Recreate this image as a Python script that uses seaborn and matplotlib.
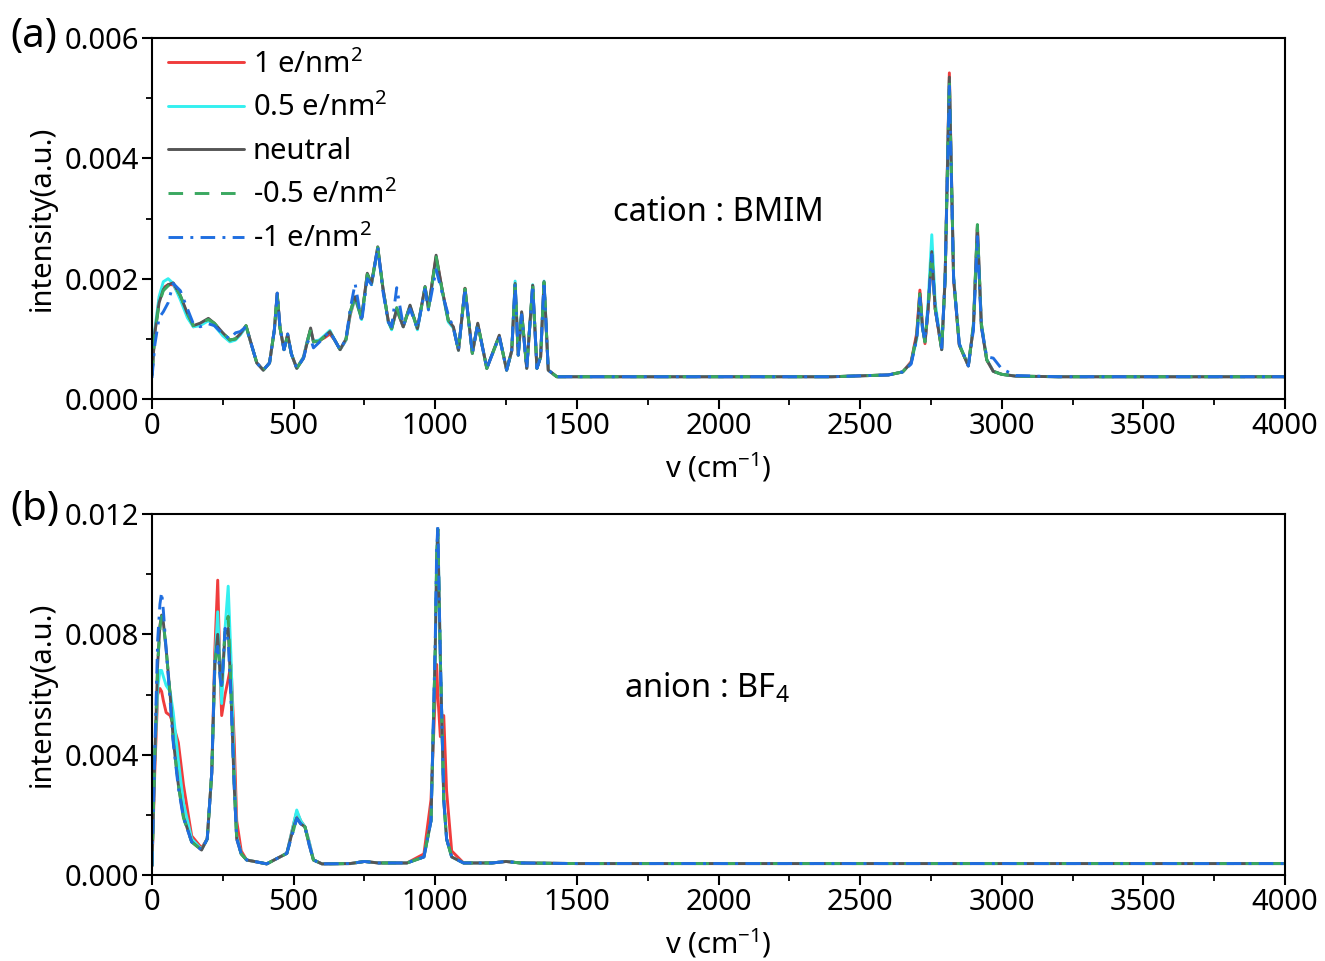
import numpy as np
import pandas as pd
import seaborn as sns
import matplotlib
matplotlib.use("Agg")
import matplotlib.pyplot as plt
from matplotlib.ticker import MultipleLocator, FormatStrFormatter

# ---------------- data: panel (a) cation BMIM ----------------
x_a = [0, 10, 25, 40, 57, 75, 100, 125, 146, 170, 199, 220, 250, 275, 295, 311, 332, 350, 370, 393,
       415, 432, 442, 452, 466, 479, 492, 511, 535, 550, 560, 570, 590, 610, 628, 645, 664, 685, 700, 717,
       740, 760, 775, 797, 815, 834, 846, 864, 887, 911, 937, 964, 976, 1003, 1025, 1046, 1064, 1082, 1105, 1131,
       1150, 1182, 1226, 1252, 1270, 1282, 1293, 1305, 1323, 1344, 1359, 1372, 1384, 1399, 1429, 1600, 2000, 2400, 2600, 2650,
       2680, 2700, 2711, 2720, 2729, 2740, 2753, 2765, 2788, 2800, 2815, 2830, 2850, 2882, 2900, 2914, 2928, 2947, 2970, 3000,
       3050, 3200, 4000]

a_neutral = [0.00040, 0.00110, 0.00160, 0.00182, 0.00190, 0.00193, 0.00172, 0.00142, 0.00122, 0.00126, 0.00134, 0.00126, 0.00110, 0.00098, 0.00100, 0.00108, 0.00122, 0.00092, 0.00060, 0.00048,
             0.00060, 0.00115, 0.00176, 0.00118, 0.00082, 0.00108, 0.00075, 0.00051, 0.00068, 0.00098, 0.00118, 0.00095, 0.00096, 0.00104, 0.00112, 0.00098, 0.00082, 0.00100, 0.00145, 0.00170,
             0.00134, 0.00209, 0.00192, 0.00253, 0.00185, 0.00130, 0.00117, 0.00150, 0.00120, 0.00156, 0.00117, 0.00187, 0.00151, 0.00239, 0.00180, 0.00131, 0.00120, 0.00081, 0.00184, 0.00076,
             0.00126, 0.00051, 0.00106, 0.00048, 0.00080, 0.00192, 0.00073, 0.00145, 0.00051, 0.00189, 0.00051, 0.00070, 0.00195, 0.00048, 0.00037, 0.00037, 0.00037, 0.00037, 0.00040, 0.00045,
             0.00060, 0.00105, 0.00175, 0.00120, 0.00095, 0.00150, 0.00245, 0.00150, 0.00082, 0.00200, 0.00535, 0.00200, 0.00090, 0.00055, 0.00120, 0.00288, 0.00120, 0.00065, 0.00046, 0.00041,
             0.00038, 0.00037, 0.00037]

a_red = [0.00040, 0.00112, 0.00165, 0.00185, 0.00190, 0.00190, 0.00170, 0.00140, 0.00120, 0.00125, 0.00133, 0.00125, 0.00108, 0.00097, 0.00100, 0.00107, 0.00121, 0.00092, 0.00060, 0.00048,
         0.00060, 0.00115, 0.00174, 0.00118, 0.00082, 0.00106, 0.00075, 0.00051, 0.00070, 0.00100, 0.00115, 0.00096, 0.00097, 0.00102, 0.00108, 0.00098, 0.00082, 0.00098, 0.00140, 0.00168,
         0.00134, 0.00207, 0.00192, 0.00251, 0.00185, 0.00130, 0.00117, 0.00148, 0.00120, 0.00154, 0.00117, 0.00185, 0.00151, 0.00236, 0.00180, 0.00131, 0.00118, 0.00081, 0.00184, 0.00076,
         0.00124, 0.00051, 0.00104, 0.00048, 0.00080, 0.00190, 0.00073, 0.00143, 0.00051, 0.00188, 0.00051, 0.00070, 0.00193, 0.00048, 0.00037, 0.00037, 0.00037, 0.00037, 0.00040, 0.00045,
         0.00062, 0.00110, 0.00181, 0.00122, 0.00092, 0.00148, 0.00240, 0.00150, 0.00082, 0.00200, 0.00542, 0.00200, 0.00090, 0.00055, 0.00120, 0.00285, 0.00125, 0.00065, 0.00046, 0.00041,
         0.00038, 0.00037, 0.00037]

a_cyan = [0.00040, 0.00115, 0.00170, 0.00195, 0.00200, 0.00192, 0.00165, 0.00135, 0.00120, 0.00122, 0.00130, 0.00122, 0.00105, 0.00095, 0.00098, 0.00106, 0.00120, 0.00092, 0.00060, 0.00048,
          0.00060, 0.00115, 0.00172, 0.00118, 0.00082, 0.00106, 0.00075, 0.00051, 0.00070, 0.00100, 0.00114, 0.00096, 0.00098, 0.00106, 0.00114, 0.00098, 0.00082, 0.00098, 0.00142, 0.00168,
          0.00132, 0.00205, 0.00190, 0.00250, 0.00185, 0.00128, 0.00115, 0.00150, 0.00120, 0.00155, 0.00115, 0.00185, 0.00150, 0.00232, 0.00178, 0.00128, 0.00118, 0.00081, 0.00182, 0.00076,
          0.00124, 0.00051, 0.00104, 0.00048, 0.00080, 0.00196, 0.00073, 0.00143, 0.00051, 0.00190, 0.00051, 0.00070, 0.00196, 0.00048, 0.00037, 0.00037, 0.00037, 0.00037, 0.00040, 0.00045,
          0.00060, 0.00100, 0.00165, 0.00118, 0.00095, 0.00160, 0.00273, 0.00160, 0.00082, 0.00200, 0.00530, 0.00205, 0.00092, 0.00055, 0.00120, 0.00280, 0.00125, 0.00066, 0.00046, 0.00041,
          0.00038, 0.00037, 0.00037]

a_green = [0.00040, 0.00108, 0.00158, 0.00180, 0.00188, 0.00192, 0.00172, 0.00142, 0.00122, 0.00126, 0.00132, 0.00126, 0.00110, 0.00098, 0.00100, 0.00108, 0.00122, 0.00092, 0.00060, 0.00048,
           0.00060, 0.00115, 0.00174, 0.00118, 0.00082, 0.00106, 0.00075, 0.00051, 0.00068, 0.00098, 0.00116, 0.00095, 0.00096, 0.00104, 0.00111, 0.00098, 0.00082, 0.00100, 0.00145, 0.00172,
           0.00134, 0.00207, 0.00192, 0.00252, 0.00185, 0.00130, 0.00117, 0.00152, 0.00120, 0.00155, 0.00117, 0.00186, 0.00151, 0.00236, 0.00180, 0.00131, 0.00120, 0.00081, 0.00183, 0.00076,
           0.00125, 0.00051, 0.00105, 0.00048, 0.00080, 0.00190, 0.00073, 0.00144, 0.00051, 0.00189, 0.00051, 0.00070, 0.00194, 0.00048, 0.00037, 0.00037, 0.00037, 0.00037, 0.00040, 0.00045,
           0.00060, 0.00108, 0.00178, 0.00120, 0.00095, 0.00150, 0.00243, 0.00150, 0.00082, 0.00200, 0.00530, 0.00200, 0.00090, 0.00055, 0.00125, 0.00290, 0.00125, 0.00065, 0.00046, 0.00041,
           0.00038, 0.00037, 0.00037]

a_blue = [0.00035, 0.00090, 0.00135, 0.00145, 0.00160, 0.00192, 0.00180, 0.00150, 0.00125, 0.00120, 0.00125, 0.00122, 0.00108, 0.00100, 0.00110, 0.00112, 0.00120, 0.00092, 0.00060, 0.00048,
          0.00060, 0.00115, 0.00176, 0.00118, 0.00082, 0.00108, 0.00075, 0.00051, 0.00068, 0.00095, 0.00100, 0.00085, 0.00094, 0.00104, 0.00112, 0.00098, 0.00082, 0.00100, 0.00150, 0.00192,
          0.00128, 0.00200, 0.00190, 0.00253, 0.00180, 0.00128, 0.00120, 0.00185, 0.00122, 0.00150, 0.00117, 0.00182, 0.00148, 0.00215, 0.00175, 0.00140, 0.00118, 0.00081, 0.00184, 0.00076,
          0.00124, 0.00051, 0.00104, 0.00048, 0.00080, 0.00192, 0.00073, 0.00140, 0.00051, 0.00189, 0.00051, 0.00070, 0.00195, 0.00048, 0.00037, 0.00037, 0.00037, 0.00037, 0.00040, 0.00045,
          0.00058, 0.00100, 0.00168, 0.00118, 0.00098, 0.00150, 0.00240, 0.00150, 0.00085, 0.00200, 0.00520, 0.00200, 0.00092, 0.00055, 0.00115, 0.00270, 0.00120, 0.00070, 0.00068, 0.00050,
          0.00039, 0.00037, 0.00037]

# ---------------- data: panel (b) anion BF4 ----------------
x_b = [0, 10, 20, 28, 34, 40, 50, 64, 75, 93, 111, 140, 175, 195, 211, 222, 232, 240, 246, 258,
       269, 279, 290, 299, 315, 334, 405, 476, 500, 511, 525, 540, 555, 570, 600, 700, 750, 800, 900, 960,
       985, 1000, 1005, 1009, 1018, 1030, 1040, 1058, 1100, 1200, 1250, 1300, 1500, 2000, 3000, 4000]

b_neutral = [0.0003, 0.0040, 0.0070, 0.0083, 0.00864, 0.0084, 0.0075, 0.0060, 0.00449, 0.0030, 0.00194, 0.0011, 0.00083, 0.0012, 0.0034, 0.0070, 0.0080, 0.0068, 0.0063, 0.0080,
             0.0082, 0.0060, 0.0030, 0.0012, 0.0007, 0.0005, 0.00037, 0.00072, 0.0016, 0.0019, 0.0017, 0.0016, 0.0010, 0.0005, 0.00037, 0.00038, 0.00045, 0.0004, 0.0004, 0.0006,
             0.0018, 0.0075, 0.0105, 0.0115, 0.0072, 0.0025, 0.0012, 0.0006, 0.0004, 0.0004, 0.00045, 0.0004, 0.00038, 0.00038, 0.00038, 0.00038]

b_red = [0.0003, 0.0035, 0.0060, 0.0062, 0.0061, 0.0058, 0.0054, 0.0053, 0.0050, 0.0044, 0.0030, 0.0013, 0.0009, 0.0012, 0.0034, 0.0075, 0.0098, 0.0068, 0.0053, 0.0060,
         0.0065, 0.0070, 0.0045, 0.0018, 0.0008, 0.0005, 0.00037, 0.00072, 0.0017, 0.0021, 0.0018, 0.0016, 0.0011, 0.0005, 0.00037, 0.00038, 0.00045, 0.0004, 0.0004, 0.0007,
         0.0025, 0.0060, 0.0070, 0.0060, 0.0046, 0.0053, 0.0028, 0.0008, 0.0004, 0.0004, 0.00045, 0.0004, 0.00038, 0.00038, 0.00038, 0.00038]

b_cyan = [0.0003, 0.0040, 0.0062, 0.0068, 0.0068, 0.0066, 0.0063, 0.0061, 0.0054, 0.0038, 0.0024, 0.0012, 0.00085, 0.0012, 0.0034, 0.0070, 0.00875, 0.0068, 0.0057, 0.0082,
          0.0096, 0.0072, 0.0035, 0.0013, 0.0007, 0.0005, 0.00037, 0.00072, 0.0017, 0.00216, 0.0018, 0.0016, 0.0011, 0.0005, 0.00037, 0.00038, 0.00045, 0.0004, 0.0004, 0.0006,
          0.0018, 0.0075, 0.0105, 0.0115, 0.0072, 0.0025, 0.0012, 0.0006, 0.0004, 0.0004, 0.00045, 0.0004, 0.00038, 0.00038, 0.00038, 0.00038]

b_green = [0.0003, 0.0040, 0.0070, 0.0082, 0.0086, 0.0084, 0.0075, 0.0060, 0.0045, 0.0030, 0.0019, 0.0011, 0.00083, 0.0012, 0.0034, 0.0070, 0.0078, 0.0068, 0.0063, 0.0082,
           0.0086, 0.0062, 0.0030, 0.0012, 0.0007, 0.0005, 0.00037, 0.00072, 0.0015, 0.0019, 0.0017, 0.0016, 0.0010, 0.0005, 0.00037, 0.00038, 0.00045, 0.0004, 0.0004, 0.0006,
           0.0018, 0.0075, 0.0105, 0.0115, 0.0072, 0.0025, 0.0012, 0.0006, 0.0004, 0.0004, 0.00045, 0.0004, 0.00038, 0.00038, 0.00038, 0.00038]

b_blue = [0.0003, 0.0042, 0.0078, 0.0090, 0.0094, 0.0088, 0.0075, 0.0058, 0.0044, 0.0029, 0.0019, 0.0011, 0.00083, 0.0012, 0.0034, 0.0072, 0.0076, 0.0066, 0.0062, 0.0082,
          0.0078, 0.0058, 0.0030, 0.0012, 0.0007, 0.0005, 0.00037, 0.00072, 0.0015, 0.00188, 0.0017, 0.0016, 0.0010, 0.0005, 0.00037, 0.00038, 0.00045, 0.0004, 0.0004, 0.0006,
          0.0018, 0.0078, 0.0108, 0.01158, 0.0072, 0.0025, 0.0012, 0.0006, 0.0004, 0.0004, 0.00045, 0.0004, 0.00038, 0.00038, 0.00038, 0.00038]

labels = ["1 e/nm$\\mathregular{^2}$", "0.5 e/nm$\\mathregular{^2}$", "neutral",
          "-0.5 e/nm$\\mathregular{^2}$", "-1 e/nm$\\mathregular{^2}$"]
colors = ["#f03c3c", "#33f0f0", "#555555", "#3aa860", "#1f6ee0"]
dash_styles = [(None, None), (None, None), (None, None), (5, 4), (5, 2.5, 1, 2.5)]

x_ticks = [0, 500, 1000, 1500, 2000, 2500, 3000, 3500, 4000]

# ---------------- style ----------------
sns.set_style("ticks")
plt.rcParams["font.family"] = ["Noto Sans", "DejaVu Sans"]
plt.rcParams["mathtext.fontset"] = "custom"
plt.rcParams["mathtext.rm"] = "Noto Sans"
plt.rcParams["mathtext.it"] = "Noto Sans:italic"
plt.rcParams["axes.unicode_minus"] = True
plt.rcParams["text.color"] = "black"
plt.rcParams["axes.labelcolor"] = "black"
plt.rcParams["xtick.color"] = "black"
plt.rcParams["ytick.color"] = "black"

fig = plt.figure(figsize=(13.25, 9.61), dpi=100)
ax_a = fig.add_axes([152 / 1325, 1 - 399 / 961, (1285 - 152) / 1325, (399 - 38) / 961])
ax_b = fig.add_axes([152 / 1325, 1 - 875 / 961, (1285 - 152) / 1325, (875 - 514) / 961])

panels = [
    (ax_a, x_a, [a_red, a_cyan, a_neutral, a_green, a_blue], 0.006, 0.002, 0.001, "cation : BMIM", 0.5),
    (ax_b, x_b, [b_red, b_cyan, b_neutral, b_green, b_blue], 0.012, 0.004, 0.002, "anion : BF$\\mathregular{_4}$", 0.49),
]

for ax, xs, ys, ymax, ymaj, ymin, note, nx in panels:
    for y, lab, c, d in zip(ys, labels, colors, dash_styles):
        df = pd.DataFrame({"x": xs, "y": y})
        sns.lineplot(data=df, x="x", y="y", ax=ax, color=c, lw=2.1,
                     sort=False, estimator=None, label=lab, legend=False)
        ln = ax.lines[-1]
        if d[0] is not None:
            ln.set_dashes(d)
    ax.set_xlim(0, 4000)
    ax.set_ylim(0, ymax)
    ax.set_xticks(x_ticks)
    ax.xaxis.set_minor_locator(MultipleLocator(250))
    ax.yaxis.set_major_locator(MultipleLocator(ymaj))
    ax.yaxis.set_minor_locator(MultipleLocator(ymin))
    ax.yaxis.set_major_formatter(FormatStrFormatter("%.3f"))
    ax.tick_params(axis="both", which="major", direction="out", length=7, width=1.5,
                   labelsize=21, pad=2, top=False, right=False, colors="black")
    ax.tick_params(axis="both", which="minor", direction="out", length=4, width=1.3,
                   top=False, right=False, colors="black")
    for s in ax.spines.values():
        s.set_visible(True)
        s.set_linewidth(1.5)
        s.set_color("black")
    ax.set_xlabel("v (cm$\\mathregular{^{-1}}$)", fontsize=21, labelpad=7)
    ax.set_ylabel("intensity(a.u.)", fontsize=21, labelpad=6)
    ax.text(nx, 0.518, note, transform=ax.transAxes, ha="center", va="center", fontsize=23.5)

handles = ax_a.lines[:5]
ax_a.legend(handles, labels, loc="upper left", bbox_to_anchor=(0.004, 1.0), frameon=False,
            fontsize=21, handlelength=2.6, handletextpad=0.3, labelspacing=0.48,
            borderpad=0.2, borderaxespad=0.2)

fig.text(10 / 1325, 1 - 37 / 961, "(a)", fontsize=29, ha="left", va="center")
fig.text(10 / 1325, 1 - 510 / 961, "(b)", fontsize=29, ha="left", va="center")

fig.savefig("out.png", dpi=100)
